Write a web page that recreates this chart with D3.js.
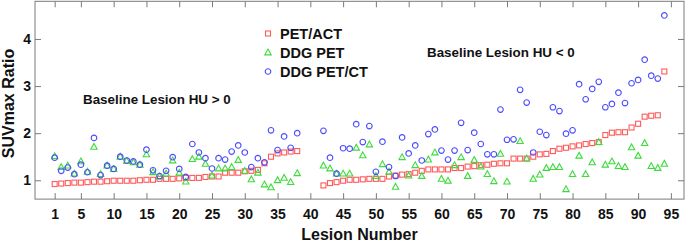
<!DOCTYPE html>
<html>
<head>
<meta charset="utf-8">
<script src="https://cdn.jsdelivr.net/npm/d3@7"></script>
<style>
  body { margin: 0; background: #fff; }
  svg { display: block; font-family: Arial, "Liberation Sans", sans-serif; }
</style>
</head>
<body>
<svg id="drawing_region"></svg>
<script>
// lesion numbers (39-41 not plotted)
const lesions = d3.range(1, 39).concat(d3.range(42, 95));

const petACT = [0.92, 0.93, 0.94, 0.95, 0.95, 0.96, 0.97, 0.97, 0.98, 0.99,
    0.99, 0.99, 0.99, 1.00, 1.01, 1.01, 1.03, 1.03, 1.03, 1.04,
    1.05, 1.05, 1.05, 1.07, 1.08, 1.08, 1.16, 1.16, 1.16, 1.19,
    1.20, 1.22, 1.36, 1.50, 1.57, 1.59, 1.61, 1.62,
    0.89, 0.94, 0.96, 0.99, 1.01, 1.01, 1.02, 1.03, 1.03, 1.03,
    1.08, 1.10, 1.12, 1.13, 1.16, 1.20, 1.23, 1.23, 1.23, 1.23,
    1.26, 1.26, 1.29, 1.30, 1.32, 1.33, 1.35, 1.36, 1.36, 1.46,
    1.46, 1.46, 1.50, 1.55, 1.56, 1.62, 1.67, 1.69, 1.72, 1.74,
    1.77, 1.79, 1.81, 1.96, 2.01, 2.02, 2.02, 2.12, 2.20, 2.35,
    2.37, 2.38, 3.31];

const ddgPET = [1.51, 1.28, 1.31, 1.14, 1.40, 1.18, 1.71, 1.13, 1.31, 1.24,
    1.50, 1.41, 1.38, 1.33, 1.55, 1.17, 1.08, 1.14, 1.42, 1.16,
    0.97, 1.45, 1.50, 1.35, 1.10, 1.25, 1.25, 1.28, 1.43, 1.20,
    1.02, 1.16, 0.91, 0.85, 1.00, 1.05, 0.96, 1.15,
    1.31, 1.25, 1.14, 1.14, 1.14, 1.69, 1.53, 1.76, 1.09, 1.34,
    1.18, 0.86, 1.49, 1.10, 1.32, 1.09, 1.44, 1.59, 1.03, 0.99,
    1.32, 1.49, 1.09, 1.43, 1.29, 1.13, 0.98, 1.56, 0.97, null,
    1.83, 1.46, 1.03, 1.12, 1.26, 1.28, 1.28, 0.81, 1.13, 1.52,
    1.13, 1.38, 1.81, 1.33, 1.40, 1.30, 1.28, 1.70, 1.52, 1.79,
    1.30, 1.26, 1.35];

const ddgPETCT = [1.48, 1.20, 1.27, 1.13, 1.33, 1.17, 1.90, 1.11, 1.31, 1.24,
    1.50, 1.42, 1.40, 1.33, 1.65, 1.21, 1.09, 1.20, 1.49, 1.24,
    1.07, 1.77, 1.59, 1.47, 1.25, 1.47, 1.44, 1.61, 1.74, 1.59,
    1.28, 1.47, 1.38, 2.06, 1.64, 1.93, 1.69, 2.00,
    2.05, 1.48, 1.14, 1.68, 1.67, 2.19, 1.81, 2.15, 1.18, 1.82,
    1.28, 1.09, 1.91, 1.57, 1.74, 1.42, 1.98, 2.08, 1.63, 1.44,
    1.63, 2.22, 1.64, 2.01, 1.77, 1.55, 1.55, 2.50, 1.86, 1.87,
    2.92, 2.65, 1.59, 2.03, 1.96, 2.55, 2.47, 1.99, 2.06, 3.04,
    2.72, 2.94, 3.09, 2.55, 2.62, 2.86, 2.64, 3.06, 3.13, 3.56,
    3.22, 3.16, 4.50];

const xTicks = [1].concat(d3.range(5, 96, 5));
const yTicks = [1, 2, 3, 4];

const seriesNames = ['PET/ACT', 'DDG PET', 'DDG PET/CT'];
const seriesColors = ['#ff5a5a', '#3ddc3d', '#4b4bff'];
const seriesShapes = ['square', 'triangle', 'circle'];
const seriesValues = [petACT, ddgPET, ddgPETCT];

const config = {
    width: 685,
    height: 242,
    box: { left: 35, right: 684, top: 1.3, bottom: 199.1 }
};
const box = config.box;

const svg = d3.select('#drawing_region')
    .attr('width', config.width)
    .attr('height', config.height);

const xscale = d3.scaleLinear().domain([-2, 97]).range([box.left, box.right]);
const yscale = d3.scaleLinear().domain([0.6, 4.8]).range([box.bottom, box.top]);

const frameColor = '#7a7a7a';

function styleAxis(g, labels) {
    g.select('.domain').remove();
    g.selectAll('.tick line').attr('stroke', frameColor);
    g.selectAll('.tick text')
        .attr('fill', '#111')
        .attr('font-size', 14)
        .attr('font-weight', 'bold');
    if (!labels) g.selectAll('.tick text').remove();
}

// axes, ticks pointing inward on all four sides
svg.append('g')
    .attr('transform', `translate(0, ${box.bottom})`)
    .call(d3.axisBottom(xscale).tickValues(xTicks).tickSize(-6).tickPadding(10).tickFormat(d3.format('d')))
    .call(g => styleAxis(g, true));

svg.append('g')
    .attr('transform', `translate(0, ${box.top})`)
    .call(d3.axisTop(xscale).tickValues(xTicks).tickSize(-6))
    .call(g => styleAxis(g, false));

svg.append('g')
    .attr('transform', `translate(${box.left}, 0)`)
    .call(d3.axisLeft(yscale).tickValues(yTicks).tickSize(-6).tickPadding(4).tickFormat(d3.format('d')))
    .call(g => styleAxis(g, true));

svg.append('g')
    .attr('transform', `translate(${box.right}, 0)`)
    .call(d3.axisRight(yscale).tickValues(yTicks).tickSize(-6))
    .call(g => styleAxis(g, false));

svg.append('rect')
    .attr('x', box.left)
    .attr('y', box.top)
    .attr('width', box.right - box.left)
    .attr('height', box.bottom - box.top)
    .attr('fill', 'none')
    .attr('stroke', frameColor)
    .attr('stroke-width', 1);

// marker drawing
function marker(sel, shape, color) {
    if (shape === 'square') {
        sel.append('rect')
            .attr('x', -2.5).attr('y', -2.5)
            .attr('width', 5).attr('height', 5);
    } else if (shape === 'triangle') {
        sel.append('path').attr('d', 'M0,-3.4L3.2,2.4L-3.2,2.4Z');
    } else {
        sel.append('circle').attr('r', 2.8);
    }
    sel.selectAll('*')
        .attr('fill', 'none')
        .attr('stroke', color)
        .attr('stroke-width', 1.1);
}

const plot = svg.append('g');

seriesValues.forEach((values, s) => {
    const pts = lesions
        .map((l, i) => ({ l: l, v: values[i] }))
        .filter(d => d.v != null);
    plot.append('g')
        .selectAll('g')
        .data(pts)
        .join('g')
        .attr('transform', d => `translate(${xscale(d.l)}, ${yscale(d.v)})`)
        .each(function () { marker(d3.select(this), seriesShapes[s], seriesColors[s]); });
});

// legend
const legend = svg.append('g').attr('transform', 'translate(268, 33.5)');
seriesNames.forEach((name, i) => {
    const row = legend.append('g').attr('transform', `translate(0, ${i * 19})`);
    marker(row.append('g'), seriesShapes[i], seriesColors[i]);
    row.append('text')
        .attr('x', 12)
        .attr('y', 5.3)
        .attr('font-size', 14.5)
        .attr('font-weight', 'bold')
        .attr('fill', '#111')
        .text(name);
});

// annotations
svg.append('text')
    .attr('x', 83)
    .attr('y', 104)
    .attr('font-size', 13.4)
    .attr('font-weight', 'bold')
    .attr('fill', '#111')
    .text('Baseline Lesion HU > 0');

svg.append('text')
    .attr('x', 427)
    .attr('y', 57)
    .attr('font-size', 13.4)
    .attr('font-weight', 'bold')
    .attr('fill', '#111')
    .text('Baseline Lesion HU < 0');

// axis titles
svg.append('text')
    .attr('x', (box.left + box.right) / 2)
    .attr('y', 240)
    .attr('text-anchor', 'middle')
    .attr('font-size', 16)
    .attr('font-weight', 'bold')
    .attr('fill', '#111')
    .text('Lesion Number');

svg.append('text')
    .attr('transform', 'translate(14, 103.5) rotate(-90)')
    .attr('text-anchor', 'middle')
    .attr('font-size', 16)
    .attr('font-weight', 'bold')
    .attr('fill', '#111')
    .text('SUVmax Ratio');
</script>
</body>
</html>
